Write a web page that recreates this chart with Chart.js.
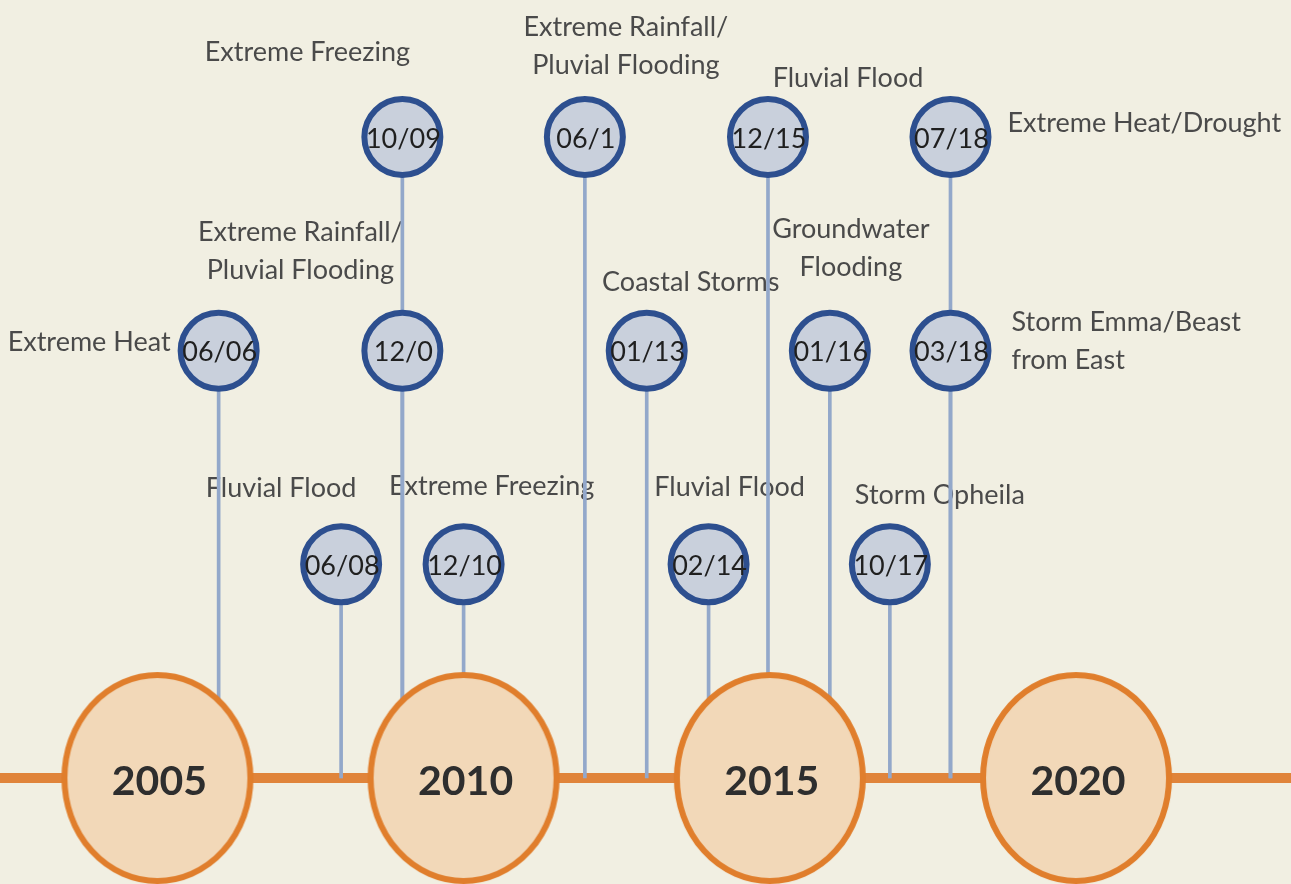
<!DOCTYPE html>
<html>
<head>
<meta charset="utf-8">
<script src="https://cdn.jsdelivr.net/npm/chart.js@4.4.1/dist/chart.umd.min.js"></script>
<style>
  html, body { margin: 0; padding: 0; background: #F1EFE2; }
  #wrap { width: 1291px; height: 884px; position: relative; }
</style>
</head>
<body>
<div id="wrap"><canvas id="c"></canvas></div>
<script>
// ---- data ----
const yearLabels = ['2005', '2010', '2015', '2020'];
const yearX = [2005, 2010, 2015, 2020];

const eventDates = ['06/06', '06/08', '12/0', '10/09', '12/10', '06/1', '01/13', '02/14', '12/15', '01/16', '10/17', '07/18', '03/18'];
const eventNames = [
  'Extreme Heat',
  'Fluvial Flood',
  'Extreme Rainfall/\nPluvial Flooding',
  'Extreme Freezing',
  'Extreme Freezing',
  'Extreme Rainfall/\nPluvial Flooding',
  'Coastal Storms',
  'Fluvial Flood',
  'Fluvial Flood',
  'Groundwater\nFlooding',
  'Storm Opheila',
  'Extreme Heat/Drought',
  'Storm Emma/Beast\nfrom East'
];
const eventX = [2006.0, 2008.0, 2009.0, 2009.0, 2010.0, 2011.98, 2012.99, 2014.0, 2014.97, 2015.98, 2016.96, 2017.95, 2017.95];
const eventLevel = [2, 1, 2, 3, 1, 3, 2, 1, 3, 2, 1, 3, 2];

// ---- layout (label placement relative to each event marker, in pixels) ----
const labelPlacement = [
  { dx: -48, dy: -8, align: 'right' },
  { dx: -60, dy: -76, align: 'center' },
  { dx: -102, dy: -99, align: 'center' },
  { dx: -95, dy: -85, align: 'center' },
  { dx: 28, dy: -78, align: 'center' },
  { dx: 41, dy: -91, align: 'center' },
  { dx: 44, dy: -68, align: 'center' },
  { dx: 21, dy: -77, align: 'center' },
  { dx: 80, dy: -59, align: 'center' },
  { dx: 21, dy: -102, align: 'center' },
  { dx: 50, dy: -69, align: 'center' },
  { dx: 57, dy: -14, align: 'left' },
  { dx: 61, dy: -9, align: 'left' }
];

const FONT = 'Lato, "Open Sans", sans-serif';

// ellipse point style for the year markers
function makeEllipse(rx, ry, bw, fill, stroke) {
  const cv = document.createElement('canvas');
  cv.width = Math.ceil(2 * rx + 2 * bw);
  cv.height = Math.ceil(2 * ry + 2 * bw);
  const g = cv.getContext('2d');
  g.beginPath();
  g.ellipse(cv.width / 2, cv.height / 2, rx, ry, 0, 0, Math.PI * 2);
  g.fillStyle = fill;
  g.fill();
  g.lineWidth = bw;
  g.strokeStyle = stroke;
  g.stroke();
  return cv;
}
const yearStyle = makeEllipse(93, 103, 6, '#F2D8B8', '#E07E2C');

const X_MIN = 2002.43, X_MAX = 2023.51;
const Y_MIN = -0.496, Y_MAX = 3.641;

const textPlugin = {
  id: 'timelineText',
  beforeDatasetsDraw(chart) {
    const ctx = chart.ctx;
    const meta = chart.getDatasetMeta(2);
    ctx.save();
    ctx.font = '27px ' + FONT;
    ctx.fillStyle = '#4A4A4A';
    ctx.textBaseline = 'middle';
    meta.data.forEach((pt, i) => {
      const p = labelPlacement[i];
      const lines = eventNames[i].split('\n');
      const lh = 38;
      ctx.textAlign = p.align;
      const y0 = pt.y + p.dy - (lines.length - 1) * lh / 2;
      lines.forEach((ln, k) => ctx.fillText(ln, pt.x + p.dx, y0 + k * lh));
    });
    ctx.restore();
  },
  afterDatasetsDraw(chart) {
    const ctx = chart.ctx;
    ctx.save();
    ctx.textAlign = 'center';
    ctx.textBaseline = 'middle';
    ctx.font = '27px ' + FONT;
    ctx.fillStyle = '#1F1F1F';
    chart.getDatasetMeta(2).data.forEach((pt, i) => {
      ctx.fillText(eventDates[i], pt.x + 1, pt.y + 2);
    });
    ctx.font = 'bold 41px ' + FONT;
    ctx.fillStyle = '#2E2E2E';
    chart.getDatasetMeta(3).data.forEach((pt, i) => {
      ctx.fillText(yearLabels[i], pt.x + 2, pt.y + 4);
    });
    ctx.restore();
  }
};

new Chart(document.getElementById('c'), {
  type: 'scatter',
  data: {
    datasets: [
      {
        type: 'line',
        label: 'timeline',
        data: [{ x: X_MIN, y: 0 }, { x: X_MAX, y: 0 }],
        borderColor: '#E0843A',
        borderWidth: 10,
        pointRadius: 0,
        clip: false,
        order: 5
      },
      {
        type: 'bar',
        label: 'stems',
        data: eventX.map((x, i) => ({ x: x, y: [0, eventLevel[i]] })),
        backgroundColor: '#93A8CA',
        barThickness: 3,
        clip: false,
        order: 4
      },
      {
        type: 'scatter',
        label: 'events',
        data: eventX.map((x, i) => ({ x: x, y: eventLevel[i] })),
        pointRadius: 38,
        pointBorderWidth: 6,
        pointBackgroundColor: '#C9D0DC',
        pointBorderColor: '#2D4F8F',
        clip: false,
        order: 2
      },
      {
        type: 'scatter',
        label: 'years',
        data: yearX.map(x => ({ x: x, y: 0 })),
        pointStyle: yearStyle,
        pointRadius: 100,
        clip: false,
        order: 1
      }
    ]
  },
  options: {
    responsive: true,
    maintainAspectRatio: false,
    animation: false,
    layout: { padding: 0, autoPadding: false },
    plugins: { legend: { display: false }, tooltip: { enabled: false } },
    scales: {
      x: { type: 'linear', min: X_MIN, max: X_MAX, display: false, offset: false, grid: { display: false } },
      y: { type: 'linear', min: Y_MIN, max: Y_MAX, display: false, grid: { display: false } }
    }
  },
  plugins: [textPlugin]
});
</script>
</body>
</html>
